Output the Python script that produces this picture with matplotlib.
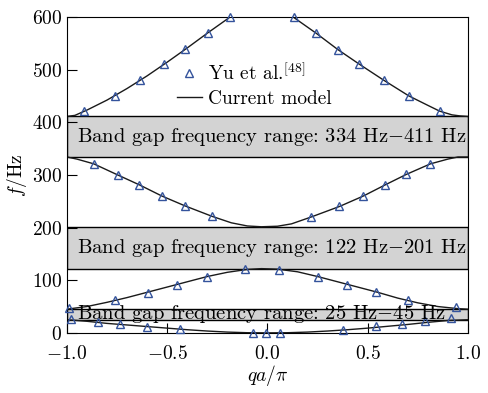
import matplotlib
matplotlib.use("Agg")
import matplotlib.pyplot as plt
import numpy as np

plt.rcParams['font.family'] = ['cmr10', 'DejaVu Serif']
plt.rcParams['mathtext.fontset'] = 'cm'
plt.rcParams['axes.formatter.use_mathtext'] = True
plt.rcParams['font.size'] = 14

# Current model (curves)
b4_left_q = [-1.0, -0.96, -0.9, -0.8, -0.7, -0.6, -0.5, -0.4, -0.3, -0.2, -0.15]
b4_left_f = [411, 413, 423, 442, 464, 488, 514, 541, 569, 596, 610]
b4_right_q = [0.1, 0.131, 0.243, 0.351, 0.459, 0.579, 0.705, 0.8, 0.859, 0.92, 0.96, 1.0]
b4_right_f = [608, 599, 569, 538, 510, 480, 450, 432, 421, 414, 412, 411]

b3_q = [-1.0, -0.95, -0.866, -0.747, -0.638, -0.527, -0.41, -0.274, -0.18, -0.1, -0.03,
        0.05, 0.12, 0.218, 0.359, 0.479, 0.587, 0.693, 0.813, 0.9, 0.95, 1.0]
b3_f = [334, 330, 321, 300, 281, 260, 241, 221, 209, 203, 201.5,
        202.5, 207, 220, 240, 260, 281, 301, 321, 330, 334, 334]

b2_q = [-1.0, -0.9, -0.8, -0.7, -0.6, -0.5, -0.4, -0.3, -0.2, -0.1, -0.03,
        0.05, 0.15, 0.25, 0.35, 0.45, 0.55, 0.65, 0.75, 0.85, 0.95, 1.0]
b2_f = [45, 50, 58, 67, 77, 87, 97, 107, 115, 120.5, 122,
        121, 116, 107, 97, 87, 77, 66, 57, 50, 46, 45]

b1_q = [-1.0, -0.9, -0.8, -0.7, -0.6, -0.5, -0.4, -0.3, -0.2, -0.1, 0.0,
        0.1, 0.2, 0.3, 0.4, 0.5, 0.6, 0.7, 0.8, 0.9, 1.0]
b1_f = [25, 22, 18, 15, 12, 9, 6, 3.5, 1.5, 0.3, 0,
        0.3, 1.5, 3.5, 6, 9, 12.5, 16, 20, 23.5, 25]

# Yu et al. [48] points
yu_q = [-0.916, -0.758, -0.633, -0.517, -0.409, -0.298, -0.188,
        0.131, 0.243, 0.351, 0.459, 0.579, 0.705, 0.859,
        -0.866, -0.747, -0.638, -0.527, -0.41, -0.274,
        0.218, 0.359, 0.479, 0.587, 0.693, 0.813,
        -0.99, -0.758, -0.597, -0.452, -0.303, -0.11,
        0.056, 0.251, 0.395, 0.542, 0.7, 0.938,
        -0.98, -0.843, -0.733, -0.602, -0.435, -0.073, -0.006, 0.063,
        0.376, 0.539, 0.672, 0.784, 0.917]
yu_f = [421, 450, 480, 510, 539, 570, 599,
        599, 569, 538, 510, 480, 450, 421,
        321, 300, 281, 260, 241, 221,
        220, 240, 260, 281, 301, 321,
        47, 62.6, 76.5, 91, 107, 121,
        119.5, 105.7, 91, 77, 62.6, 48.8,
        27, 21.5, 16.4, 12, 7, 0.6, 0.5, 0,
        5.7, 13, 17.5, 22, 28]

# band gaps (low, high) in Hz
gaps = [(334, 411), (122, 201), (25, 45)]

fig = plt.figure(figsize=(4.88, 3.93), dpi=100)
ax = fig.add_axes([0.137, 0.153, 0.822, 0.804])

for lo, hi in gaps:
    ax.axhspan(lo, hi, facecolor='#d3d3d3', edgecolor='black', lw=1.0, zorder=1)
    ax.text(-0.95, (lo + hi) / 2, 'Band gap frequency range: %d Hz$-$%d Hz' % (lo, hi),
            ha='left', va='center', fontsize=14.8, zorder=5)

kw = dict(color='#1a1a1a', lw=1.0, zorder=2)
ax.plot(b4_left_q, b4_left_f, **kw)
ax.plot(b4_right_q, b4_right_f, **kw)
ax.plot(b3_q, b3_f, **kw)
ax.plot(b2_q, b2_f, **kw)
ax.plot(b1_q, b1_f, **kw)

ax.plot(yu_q, yu_f, ls='none', marker='^', ms=6.3, mfc='none', mec='#34539c', mew=1.0,
        clip_on=False, zorder=4, label='Yu et al.$^{[48]}$')
ax.plot([], [], label='Current model', **kw)

ax.set_xlim(-1, 1)
ax.set_ylim(0, 600)
ax.set_xticks([-1.0, -0.5, 0.0, 0.5, 1.0])
ax.set_yticks([0, 100, 200, 300, 400, 500, 600])
ax.tick_params(direction='in', length=7, top=False, right=False)
ax.tick_params(axis='x', pad=9)
ax.set_xlabel(r'$qa/\pi$', labelpad=0)
ax.set_ylabel('$f$/Hz', labelpad=2)

ax.legend(loc='upper left', bbox_to_anchor=(0.24, 0.9), frameon=False,
          handlelength=1.3, handletextpad=0.3, labelspacing=0.3, borderpad=0.2)

fig.savefig('out.png', dpi=100)
